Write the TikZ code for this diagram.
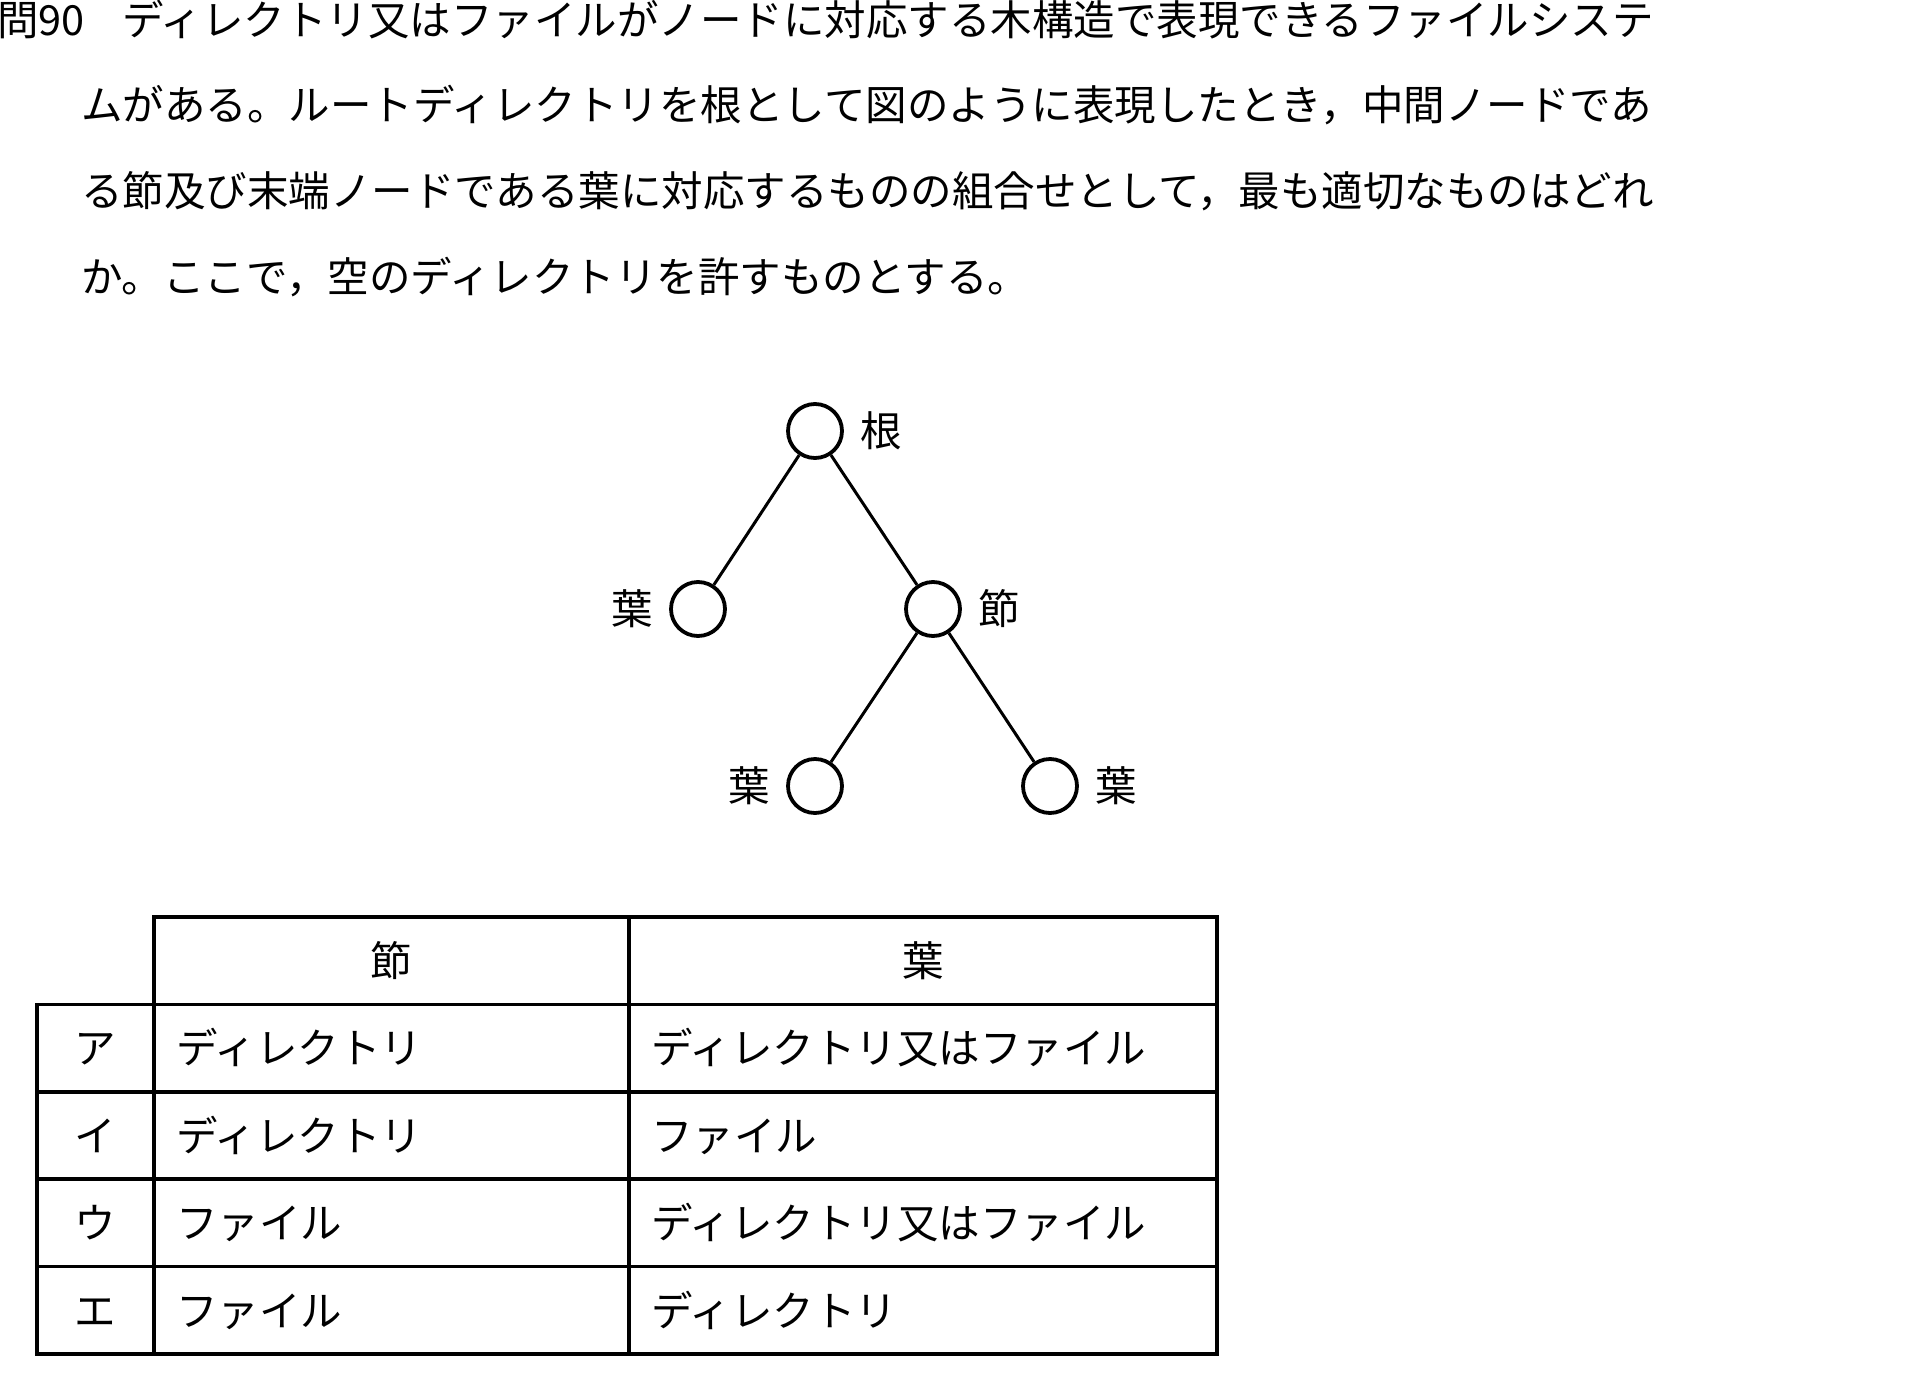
\documentclass[tikz,border=0pt]{standalone}
\usepackage{fontspec}
\setmainfont{Noto Sans CJK JP}
\usepackage{tikz}
\usetikzlibrary{positioning}

\newcommand{\qsize}{\fontsize{41.5pt}{50pt}\selectfont}

\begin{document}
\begin{tikzpicture}[x=1pt, y=-1pt, node distance=16pt,
  every node/.style={font=\qsize, inner sep=0pt}] % 1 unit = 1 px of the scan

  % ===== Styles =====
  \tikzset{
    vert/.style={circle, draw, line width=3.8pt, minimum size=54pt},
    branch/.style={line width=3pt},
    txtline/.style={anchor=base west},
    rule/.style={line width=3.6pt, line cap=rect},
    hd/.style={anchor=base},
    cell/.style={anchor=base west}
  }

  % page
  \path[fill=white, use as bounding box] (0,0) rectangle (1919,1386);

  % ===== Question text (baselines fixed) =====
  \node[txtline] (QNo) at (-3,36) {問90};
  \node[txtline] (Q1) at (122,36) {ディレクトリ又はファイルがノードに対応する木構造で表現できるファイルシステ};
  \node[txtline] (Q2) at (81,121) {ムがある。ルートディレクトリを根として図のように表現したとき，中間ノードであ};
  \node[txtline] (Q3) at (81,206) {る節及び末端ノードである葉に対応するものの組合せとして，最も適切なものはどれ};
  \node[txtline] (Q4) at (81,292) {か。ここで，空のディレクトリを許すものとする。};

  % ===== Tree =====
  \node[vert] (Root)  at (815,431) {};
  \node[vert] (LeafA) at (698,609) {};
  \node[vert] (Sec)   at (933,609) {};
  \node[vert] (LeafB) at (815,786) {};
  \node[vert] (LeafC) at (1050,786) {};

  % labels beside the circles
  \node[right=16pt of Root]  (RootLbl)  {根};
  \node[left=16pt of LeafA]  (LeafALbl) {葉};
  \node[right=16pt of Sec]   (SecLbl)   {節};
  \node[left=16pt of LeafB]  (LeafBLbl) {葉};
  \node[right=16pt of LeafC] (LeafCLbl) {葉};

  \draw[branch] (Root) -- (LeafA);
  \draw[branch] (Root) -- (Sec);
  \draw[branch] (Sec) -- (LeafB);
  \draw[branch] (Sec) -- (LeafC);

  % ===== Answer table =====
  \draw[rule] (154,917) -- (1217,917) -- (1217,1354) -- (36.7,1354)
    -- (36.7,1004.4) -- (154,1004.4) -- cycle;
  \draw[rule] (154,917) -- (154,1354);
  \draw[rule] (628.7,917) -- (628.7,1354);
  \foreach \y in {1004.4,1091.8,1179.2,1266.6}
    \draw[rule] (36.7,\y) -- (1217,\y);

  % header
  \node[hd] (HdSec)  at (391.4,976.5) {節};
  \node[hd] (HdLeaf) at (922.9,976.5) {葉};

  % rows
  \node[hd]   (KeyA)  at (95.4,1063.9) {ア};
  \node[cell] (SecA)  at (176,1063.9) {ディレクトリ};
  \node[cell] (LeafAT) at (651,1063.9) {ディレクトリ又はファイル};

  \node[hd]   (KeyB)  at (95.4,1151.3) {イ};
  \node[cell] (SecB)  at (176,1151.3) {ディレクトリ};
  \node[cell] (LeafBT) at (651,1151.3) {ファイル};

  \node[hd]   (KeyC)  at (95.4,1238.7) {ウ};
  \node[cell] (SecC)  at (176,1238.7) {ファイル};
  \node[cell] (LeafCT) at (651,1238.7) {ディレクトリ又はファイル};

  \node[hd]   (KeyD)  at (95.4,1326.1) {エ};
  \node[cell] (SecD)  at (176,1326.1) {ファイル};
  \node[cell] (LeafDT) at (651,1326.1) {ディレクトリ};

\end{tikzpicture}
\end{document}
